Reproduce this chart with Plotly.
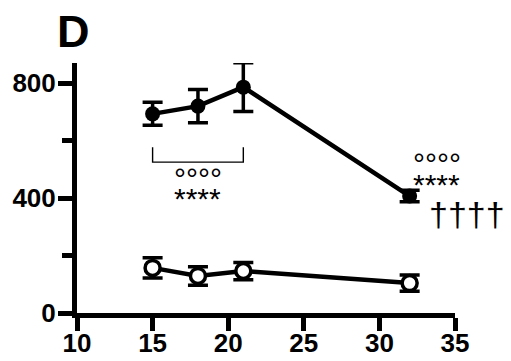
import plotly.graph_objects as go

# Data
x_vals = [15, 18, 21, 32]
filled_y = [693, 720, 786, 407]
filled_err = [40, 58, 85, 20]
open_y = [157, 129, 146, 104]
open_err = [35, 32, 30, 28]

x_ticks = [10, 15, 20, 25, 30, 35]
y_ticks = [0, 400, 800]
y_minor = [200, 600]

FONT = "Liberation Sans, Arial, sans-serif"

# page body has an 8px margin; target pixel coords are for the whole window
OFF = 8
L, R, T, B = 77, 455, 63, 313
W, H = 511, 361


def px2paper(px, py):
    return (px - L) / (R - L), (B - py) / (B - T)


fig = go.Figure()

fig.add_trace(go.Scatter(
    x=x_vals, y=open_y, mode="lines+markers",
    line=dict(color="black", width=4.5),
    marker=dict(size=15, color="white", line=dict(color="black", width=3.5)),
    error_y=dict(type="data", array=open_err, color="black", thickness=3.5, width=10),
    cliponaxis=False, showlegend=False,
))
fig.add_trace(go.Scatter(
    x=x_vals, y=filled_y, mode="lines+markers",
    line=dict(color="black", width=4.5),
    marker=dict(size=15, color="black", line=dict(color="black", width=0)),
    error_y=dict(type="data", array=filled_err, color="black", thickness=3.5, width=10),
    cliponaxis=False, showlegend=False,
))

# Significance bracket between first and third time points
bx0, bx1 = x_vals[0], x_vals[2]
fig.add_shape(type="path",
              path=f"M {bx0},577 L {bx0},525 L {bx1},525 L {bx1},577",
              xref="x", yref="y", line=dict(color="black", width=1.4))

ann_font = dict(family=FONT, size=30, color="black")
fig.add_annotation(x=(bx0 + bx1) / 2, y=491, text="°°°°", showarrow=False,
                   xref="x", yref="y", font=ann_font, yshift=-7)
fig.add_annotation(x=(bx0 + bx1) / 2, y=424, text="****", showarrow=False,
                   xref="x", yref="y", font=ann_font, yshift=-7)
fig.add_annotation(x=x_vals[3] + 1.8, y=546, text="°°°°", showarrow=False,
                   xref="x", yref="y", font=ann_font, yshift=-7)
fig.add_annotation(x=x_vals[3] + 1.8, y=470, text="****", showarrow=False,
                   xref="x", yref="y", font=ann_font, yshift=-7)

dx, dy = px2paper(467, 214)
fig.add_annotation(x=dx, y=dy, text="††††", showarrow=False,
                   xref="paper", yref="paper", xanchor="center", yanchor="middle",
                   font=dict(family=FONT, size=34, color="black"))

Dx, Dy = px2paper(73, 31)
fig.add_annotation(x=Dx, y=Dy, xref="paper", yref="paper",
                   xanchor="center", yanchor="middle", text="<b>D</b>",
                   showarrow=False, font=dict(family=FONT, size=45, color="black"))

fig.update_layout(
    template="none",
    width=W - OFF, height=H - OFF,
    margin=dict(l=L - OFF, r=W - R, t=T - OFF, b=H - B, pad=0),
    paper_bgcolor="white", plot_bgcolor="white",
    xaxis=dict(range=[10, 35], tickvals=x_ticks, ticks="outside", ticklen=13,
               tickwidth=5, tickcolor="black", showline=True, linecolor="black",
               linewidth=5, showgrid=False, zeroline=False, automargin=False,
               ticklabelstandoff=-10,
               tickfont=dict(family=FONT, size=26, color="black", weight="bold")),
    yaxis=dict(range=[0, 870], tickvals=y_ticks, ticks="outside", ticklen=14,
               tickwidth=5, tickcolor="black", showline=True, linecolor="black",
               linewidth=5, showgrid=False, zeroline=False, automargin=False,
               ticklabelstandoff=-3,
               minor=dict(tickvals=y_minor, ticks="outside", ticklen=10,
                          tickwidth=5, tickcolor="black"),
               tickfont=dict(family=FONT, size=26, color="black", weight="bold")),
)

fig.write_html("out.html")
